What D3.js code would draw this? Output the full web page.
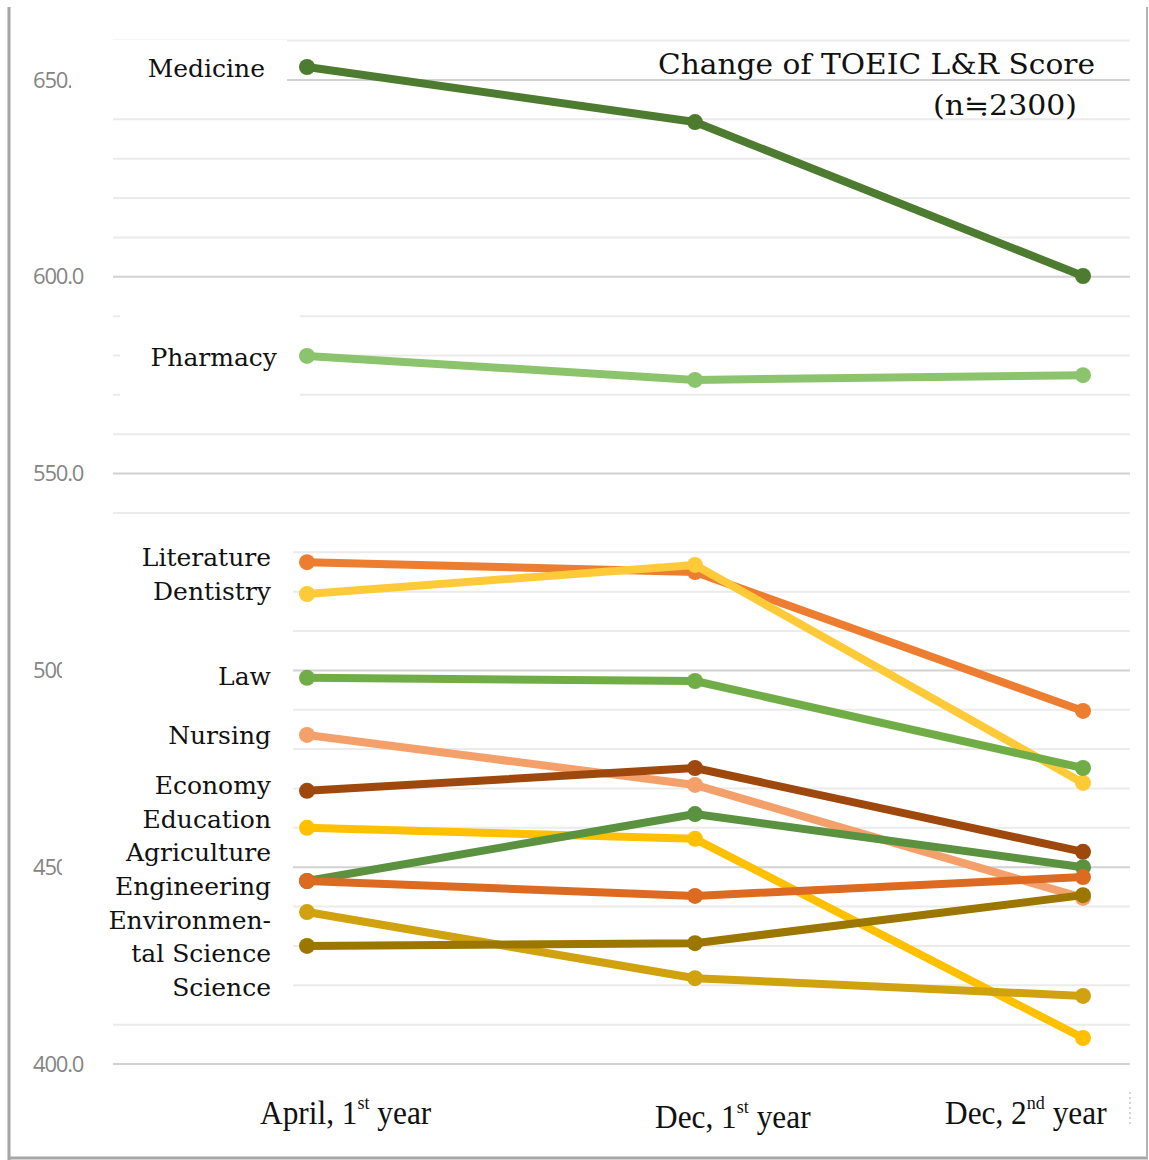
<!DOCTYPE html>
<html>
<head>
<meta charset="utf-8">
<script src="https://cdn.jsdelivr.net/npm/d3@7"></script>
<style>
  body { margin: 0; background: #fff; }
  svg { display: block; }
</style>
</head>
<body>
<script>
const width = 1149
const height = 1160

// data
const periods = ['April, 1st year', 'Dec, 1st year', 'Dec, 2nd year']
const faculties = ['Medicine', 'Pharmacy', 'Literature', 'Dentistry', 'Law', 'Nursing',
    'Economy', 'Education', 'Agriculture', 'Engineering', 'Environmental Science', 'Science']
const medicine = [653.3, 639.3, 600.2]
const pharmacy = [579.9, 573.8, 575.0]
const literature = [527.5, 525.0, 489.7]
const dentistry = [519.4, 526.8, 471.4]
const law = [498.1, 497.3, 475.2]
const nursing = [483.6, 470.9, 442.2]
const economy = [469.4, 475.2, 453.9]
const education = [460.0, 457.2, 406.6]
const agriculture = [446.5, 463.5, 450.0]
const engineering = [446.5, 442.7, 447.5]
const envScience = [438.6, 421.8, 417.3]
const science = [430.0, 430.7, 442.9]
const yTicks = [400, 450, 500, 550, 600, 650]

const seriesValues = [medicine, pharmacy, literature, dentistry, law, nursing,
    economy, education, agriculture, engineering, envScience, science]
const colors = ['#4d7b2f', '#8bc46c', '#ed7d31', '#ffca38', '#70ad47', '#f4a06a',
    '#9e480e', '#ffc000', '#5a9240', '#dc6a20', '#d0a20f', '#9b7700']

let svg = d3.select('body').append('svg')
    .attr('width', width)
    .attr('height', height)

let x = d3.scalePoint().domain(periods).range([307, 1083])
let y = d3.scaleLinear().domain([400, 660]).range([1064, 40.6])

// gridlines
let grid = svg.append('g')
grid.selectAll('line')
    .data(d3.range(400, 661, 10))
    .join('line')
    .attr('x1', 113).attr('x2', 1130)
    .attr('y1', d => y(d)).attr('y2', d => y(d))
    .attr('stroke', d => d % 50 === 0 ? '#d2d2d2' : '#ebebeb')
    .attr('stroke-width', 2)

// y axis labels
let yAxis = svg.append('g')
    .attr('transform', 'translate(33,0)')
    .call(d3.axisLeft(y).tickValues(yTicks).tickFormat(d3.format('.1f')).tickSize(0))
yAxis.select('.domain').remove()
yAxis.selectAll('text')
    .attr('x', 0)
    .attr('text-anchor', 'start')
    .attr('fill', '#858585')
    .style('font-family', '"Open Sans", sans-serif')
    .style('font-size', '22px')
    .style('letter-spacing', '-1.2px')

// white boxes behind the category labels (they hide part of ticks and grid)
let boxes = [
    { x: 71, y: 40, w: 216, h: 58 },
    { x: 120, y: 312, w: 180, h: 88 },
    { x: 62, y: 535, w: 231, h: 475 }
]
svg.append('g').selectAll('rect')
    .data(boxes)
    .join('rect')
    .attr('x', d => d.x).attr('y', d => d.y)
    .attr('width', d => d.w).attr('height', d => d.h)
    .attr('fill', '#fff')

// category labels
let labelLines = [
    { t: 'Medicine', y: 77, x: 265 },
    { t: 'Pharmacy', y: 366, x: 277 },
    { t: 'Literature', y: 566, x: 271 },
    { t: 'Dentistry', y: 600, x: 271 },
    { t: 'Law', y: 685, x: 271 },
    { t: 'Nursing', y: 744, x: 271 },
    { t: 'Economy', y: 794, x: 271 },
    { t: 'Education', y: 828, x: 271 },
    { t: 'Agriculture', y: 861, x: 271 },
    { t: 'Engineering', y: 895, x: 271 },
    { t: 'Environmen-', y: 929, x: 271 },
    { t: 'tal Science', y: 962, x: 271 },
    { t: 'Science', y: 996, x: 271 }
]
svg.append('g').selectAll('text')
    .data(labelLines)
    .join('text')
    .attr('x', d => d.x).attr('y', d => d.y)
    .attr('text-anchor', 'end')
    .attr('fill', '#111')
    .style('font-family', '"DejaVu Serif", serif')
    .style('font-size', '25px')
    .text(d => d.t)

// lines and points
let line = d3.line()
    .x((d, i) => x(periods[i]))
    .y(d => y(d))

let series = svg.append('g').selectAll('g')
    .data(seriesValues)
    .join('g')

series.append('path')
    .attr('d', d => line(d))
    .attr('fill', 'none')
    .attr('stroke', (d, i) => colors[i])
    .attr('stroke-width', 8)
    .attr('stroke-linejoin', 'round')

series.selectAll('circle')
    .data((d, i) => d.map((v, j) => ({ v: v, p: periods[j], c: colors[i] })))
    .join('circle')
    .attr('cx', d => x(d.p))
    .attr('cy', d => y(d.v))
    .attr('r', 8)
    .attr('fill', d => d.c)

// title
let title = svg.append('g')
    .style('font-family', '"DejaVu Serif", serif')
    .style('font-size', '27px')
    .attr('fill', '#111')
title.append('text').attr('x', 658).attr('y', 74)
    .attr('textLength', 437).attr('lengthAdjust', 'spacingAndGlyphs')
    .text('Change of TOEIC L&R Score')
title.append('text').attr('x', 933).attr('y', 115)
    .attr('textLength', 144).attr('lengthAdjust', 'spacingAndGlyphs')
    .text('(n≒2300)')

// x axis labels with superscripts, slightly condensed serif
let xLabels = [
    { x: 260, y: 1124, a: 'April, 1', s: 'st', b: ' year' },
    { x: 655, y: 1128, a: 'Dec, 1', s: 'st', b: ' year' },
    { x: 945, y: 1124, a: 'Dec, 2', s: 'nd', b: ' year' }
]
let xl = svg.append('g').selectAll('text')
    .data(xLabels)
    .join('text')
    .attr('transform', d => `translate(${d.x},${d.y}) scale(0.95,1)`)
    .attr('fill', '#111')
    .style('font-family', '"Liberation Serif", serif')
    .style('font-size', '33px')
xl.append('tspan').text(d => d.a)
xl.append('tspan').attr('dy', -15).style('font-size', '19px').text(d => d.s)
xl.append('tspan').attr('dy', 15).text(d => d.b)

// frame
svg.append('line').attr('x1', 9).attr('x2', 9).attr('y1', 7).attr('y2', 1160)
    .attr('stroke', '#a6a6a6').attr('stroke-width', 3)
svg.append('line').attr('x1', 9).attr('x2', 1148).attr('y1', 1158).attr('y2', 1158)
    .attr('stroke', '#a6a6a6').attr('stroke-width', 3)
svg.append('line').attr('x1', 1147).attr('x2', 1147).attr('y1', 7).attr('y2', 1158)
    .attr('stroke', '#b4b4b4').attr('stroke-width', 2)
svg.append('line').attr('x1', 1130).attr('x2', 1130).attr('y1', 1092).attr('y2', 1124)
    .attr('stroke', '#c8c8c8').attr('stroke-width', 1.5).attr('stroke-dasharray', '2,3')
</script>
</body>
</html>
